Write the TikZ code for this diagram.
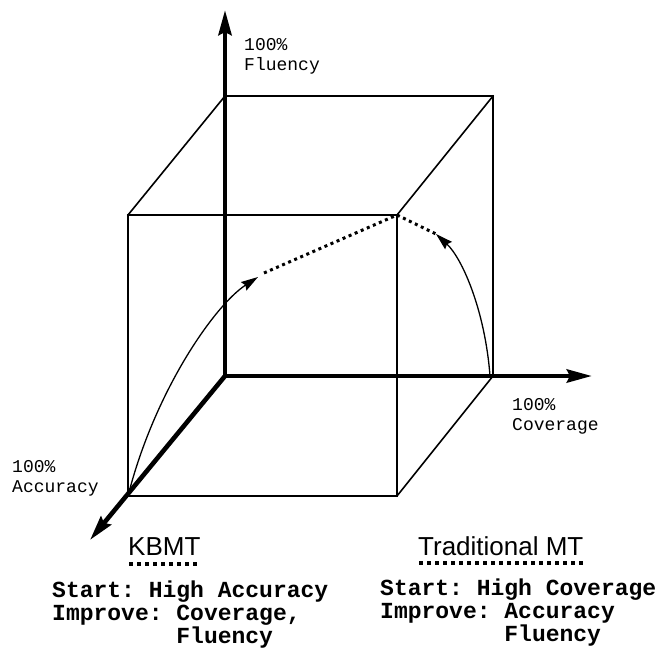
\documentclass[tikz,border=0pt]{standalone}
\usepackage{fontspec}
\setmainfont{Liberation Sans}
\newfontfamily\monof{Liberation Mono}
\usetikzlibrary{arrows.meta}
\frenchspacing
\begin{document}
\begin{tikzpicture}[x=1pt,y=-1pt,
  edge/.style={line width=1.6pt, line join=miter, line cap=rect},
  axis/.style={line width=4.6pt, -{Stealth[length=25pt,width=13pt,inset=3pt]}},
  trajarrow/.style={line width=1.3pt, -{Stealth[length=17pt,width=10pt,inset=2pt]}},
  dotline/.style={line width=3pt, dash pattern=on 3pt off 3.6pt},
  underdots/.style={line width=3.5pt, dash pattern=on 3.6pt off 4.4pt},
  lbl/.style={font=\monof\frenchspacing\fontsize{18}{20}\selectfont, anchor=base west, inner sep=0pt},
  blbl/.style={font=\monof\bfseries\frenchspacing\fontsize{23}{23}\selectfont, anchor=base west, inner sep=0pt},
  ttl/.style={font=\fontsize{26}{26}\selectfont, anchor=base west, inner sep=0pt}]
\useasboundingbox (0,0) rectangle (656,648);

% cube vertices
\coordinate (O) at (225,376);
\coordinate (BTL) at (225,96);
\coordinate (BTR) at (493,96);
\coordinate (BBR) at (493,376);
\coordinate (FTL) at (128,215);
\coordinate (FTR) at (397,215);
\coordinate (FBL) at (128,496);
\coordinate (FBR) at (397,496);
% axis ends
\coordinate (FluTip) at (225,10);
\coordinate (CovTip) at (592,376);
\coordinate (AccTip) at (90,540);

% cube edges
\draw[edge] (FTL) rectangle (FBR);
\draw[edge] (FTL) -- (BTL) -- (BTR) -- (BBR);
\draw[edge] (BTR) -- (FTR);
\draw[edge] (BBR) -- (FBR);

% trajectories
\coordinate (KTip) at (258,277);
\coordinate (KDot) at (264,273);
\coordinate (TStart) at (490,376);
\coordinate (TTip) at (436,234);
\draw[trajarrow] (FBL) .. controls (155,390) and (215,305) .. (KTip);
\draw[trajarrow] (TStart) .. controls (485,310) and (462,258) .. (TTip);
\draw[dotline] (KDot) -- (FTR) -- (TTip);

% axes
\draw[axis] (O) -- (FluTip);
\draw[axis] (O) -- (CovTip);
\draw[axis] (O) -- (AccTip);

% axis labels
\node[lbl] (flu1) at (244,50) {100\%};
\node[lbl] (flu2) at (244,70) {Fluency};
\node[lbl] (cov1) at (512,410) {100\%};
\node[lbl] (cov2) at (512,430) {Coverage};
\node[lbl] (acc1) at (12,472) {100\%};
\node[lbl] (acc2) at (12,492) {Accuracy};

% titles
\node[ttl] (kbmt) at (128,555) {KBMT};
\node[ttl] (tmt) at (418,555) {Traditional MT};
\draw[underdots] ([xshift=1pt,yshift=-9pt]kbmt.base west) -- ([yshift=-9pt]kbmt.base east);
\draw[underdots] ([xshift=1pt,yshift=-8pt]tmt.base west) -- ([yshift=-8pt]tmt.base east);

% descriptions
\node[blbl] (k1) at (52,597) {Start: High Accuracy};
\node[blbl] (k2) at (52,620) {Improve: Coverage,};
\node[blbl] (k3) at (176.2,643) {Fluency};
\node[blbl] (t1) at (380,595) {Start: High Coverage};
\node[blbl] (t2) at (380,618) {Improve: Accuracy};
\node[blbl] (t3) at (504.2,641) {Fluency};
\end{tikzpicture}
\end{document}
